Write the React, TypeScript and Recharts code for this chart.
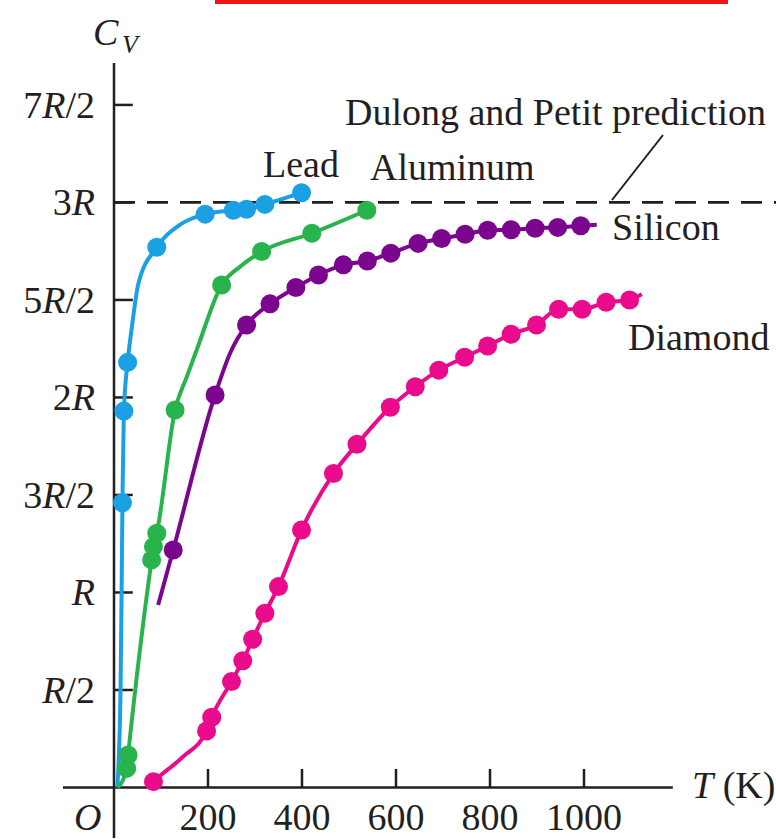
import { ComposedChart, Line, Scatter, XAxis, YAxis, ReferenceLine } from 'recharts';

const W = 776;
const H = 839;
const FONT = '"Liberation Serif", "Times New Roman", serif';
const INK = '#231f20';

// C_V in units of R, temperature in K
const X_TICKS = [200, 400, 600, 800, 1000];
const Y_TICKS = [0.5, 1, 1.5, 2, 2.5, 3, 3.5];
// [before, italic R, after]
const Y_TICK_LABELS: Record<number, string[]> = {
  0.5: ['', 'R', '/2'],
  1: ['', 'R', ''],
  1.5: ['3', 'R', '/2'],
  2: ['2', 'R', ''],
  2.5: ['5', 'R', '/2'],
  3: ['3', 'R', ''],
  3.5: ['7', 'R', '/2'],
};
const DULONG_PETIT = 3;

// Lead
const leadDotT = [18, 21, 29, 91, 194, 254, 282, 321, 399];
const leadDotC = [1.46, 1.93, 2.18, 2.77, 2.94, 2.96, 2.965, 2.99, 3.05];
const leadLineT = [7, 14, 18, 21, 29, 38, 52, 91, 140, 194, 254, 282, 321, 399];
const leadLineC = [0, 0.5, 1.46, 1.93, 2.18, 2.36, 2.585, 2.77, 2.885, 2.94, 2.96, 2.965, 2.99, 3.05];

// Aluminum
const alDotT = [27, 30, 80, 84, 91, 130, 229, 314, 421, 538];
const alDotC = [0.098, 0.167, 1.167, 1.235, 1.304, 1.936, 2.577, 2.748, 2.842, 2.96];
const alLineT = [8, 27, 30, 80, 84, 91, 130, 155, 176, 229, 268, 314, 421, 538];
const alLineC = [0, 0.098, 0.167, 1.167, 1.235, 1.304, 1.936, 2.107, 2.244, 2.577, 2.67, 2.748, 2.842, 2.96];

// Silicon
const siDotT = [126, 215, 282, 332, 387, 435, 488, 539, 589, 647, 697, 747, 795, 845, 896, 944, 993];
const siDotC = [1.218, 2.013, 2.372, 2.48, 2.564, 2.628, 2.68, 2.7, 2.74, 2.79, 2.815, 2.837, 2.857, 2.86, 2.868, 2.872, 2.88];
const siLineT = [94, 126, 215, 247, 282, 332, 387, 435, 488, 539, 589, 647, 697, 747, 795, 845, 896, 944, 993, 1027];
const siLineC = [0.936, 1.218, 2.013, 2.227, 2.372, 2.48, 2.564, 2.628, 2.68, 2.7, 2.74, 2.79, 2.815, 2.837, 2.857, 2.86, 2.868, 2.872, 2.88, 2.885];

// Diamond
const diaDotT = [84, 197, 208, 250, 274, 295, 321, 350, 399, 467, 517, 588, 641, 691, 746, 795, 845, 899, 946, 996, 1047, 1097];
const diaDotC = [0.03, 0.29, 0.36, 0.543, 0.65, 0.76, 0.893, 1.03, 1.32, 1.61, 1.76, 1.95, 2.055, 2.14, 2.206, 2.264, 2.324, 2.372, 2.452, 2.452, 2.488, 2.5];
const diaLineT = [72, 84, 147, 197, 208, 250, 274, 295, 321, 350, 399, 467, 517, 588, 641, 691, 746, 795, 845, 899, 946, 996, 1047, 1097, 1123];
const diaLineC = [0, 0.03, 0.158, 0.29, 0.36, 0.543, 0.65, 0.76, 0.893, 1.03, 1.32, 1.61, 1.76, 1.95, 2.055, 2.14, 2.206, 2.264, 2.324, 2.372, 2.452, 2.452, 2.488, 2.5, 2.53];

const zip = (t: number[], c: number[]) => t.map((v, i) => ({ t: v, c: c[i] }));

const SERIES = [
  { name: 'Lead', color: '#1ba0e4', dots: zip(leadDotT, leadDotC), line: zip(leadLineT, leadLineC) },
  { name: 'Aluminum', color: '#29b34c', dots: zip(alDotT, alDotC), line: zip(alLineT, alLineC) },
  { name: 'Silicon', color: '#7c058f', dots: zip(siDotT, siDotC), line: zip(siLineT, siLineC) },
  { name: 'Diamond', color: '#ea0a8c', dots: zip(diaDotT, diaDotC), line: zip(diaLineT, diaLineC) },
];

const X_DOMAIN: [number, number] = [-108.5, 1408.5];
const Y_DOMAIN: [number, number] = [-0.259, 3.715];
const AXIS_X_END = 1189;

const textStyle = { fontFamily: FONT, fontSize: 38, fill: INK };

const XTick = (p: any) => (
  <text x={p.x} y={830} textAnchor="middle" {...textStyle}>{p.payload.value}</text>
);

const YTick = (p: any) => {
  const parts = Y_TICK_LABELS[p.payload.value] || ['', '', ''];
  return (
    <text x={95} y={p.y + 13} textAnchor="end" {...textStyle}>
      {parts[0]}
      <tspan fontStyle="italic">{parts[1]}</tspan>
      {parts[2]}
    </text>
  );
};

const Dot = (color: string) => (p: any) => <circle cx={p.cx} cy={p.cy} r={9.5} fill={color} />;

export default function App() {
  return (
    <div style={{ position: 'absolute', left: 0, top: 0, width: W, height: H, background: '#fff' }}>
      <ComposedChart width={W} height={H} margin={{ top: 63, right: 0, bottom: 0, left: 0 }}>
        <XAxis
          type="number"
          dataKey="t"
          domain={X_DOMAIN}
          ticks={X_TICKS}
          axisLine={false}
          tickLine={false}
          height={1}
          tick={XTick}
          interval={0}
          allowDataOverflow
        />
        <YAxis
          type="number"
          dataKey="c"
          domain={Y_DOMAIN}
          ticks={Y_TICKS}
          axisLine={false}
          tickLine={false}
          width={63}
          tick={YTick}
          interval={0}
          allowDataOverflow
        />
        {/* axes through the origin */}
        <ReferenceLine segment={[{ x: X_DOMAIN[0], y: 0 }, { x: AXIS_X_END, y: 0 }]} stroke={INK} strokeWidth={2.5} ifOverflow="visible" />
        <ReferenceLine segment={[{ x: 0, y: Y_DOMAIN[0] }, { x: 0, y: Y_DOMAIN[1] }]} stroke={INK} strokeWidth={2.5} ifOverflow="visible" />
        {X_TICKS.map(t => (
          <ReferenceLine key={'xt' + t} segment={[{ x: t, y: 0 }, { x: t, y: 0.095 }]} stroke={INK} strokeWidth={2.5} ifOverflow="visible" />
        ))}
        {Y_TICKS.map(v => (
          <ReferenceLine key={'yt' + v} segment={[{ x: 0, y: v }, { x: 40, y: v }]} stroke={INK} strokeWidth={2.5} ifOverflow="visible" />
        ))}
        <ReferenceLine
          segment={[{ x: 0, y: DULONG_PETIT }, { x: X_DOMAIN[1], y: DULONG_PETIT }]}
          stroke={INK}
          strokeWidth={2.8}
          strokeDasharray="21 12"
          ifOverflow="visible"
        />
        {SERIES.map(s => (
          <Line
            key={s.name + '-line'}
            data={s.line}
            dataKey="c"
            type="monotone"
            stroke={s.color}
            strokeWidth={4}
            dot={false}
            activeDot={false}
            isAnimationActive={false}
          />
        ))}
        {SERIES.map(s => (
          <Scatter
            key={s.name + '-dots'}
            data={s.dots}
            dataKey="c"
            fill={s.color}
            shape={Dot(s.color)}
            isAnimationActive={false}
          />
        ))}
      </ComposedChart>
      <svg width={W} height={H} style={{ position: 'absolute', left: 0, top: 0, pointerEvents: 'none' }}>
        <rect x={215} y={0} width={513} height={4} fill="#f01414" />
        <text x={93} y={45} {...textStyle} fontStyle="italic">C</text>
        <text x={122} y={53} {...textStyle} fontSize={26} fontStyle="italic">V</text>
        <text x={74} y={830} {...textStyle} fontStyle="italic">O</text>
        <text x={692} y={798} {...textStyle}>
          <tspan fontStyle="italic">T</tspan> (K)
        </text>
        <text x={345} y={125} {...textStyle}>Dulong and Petit prediction</text>
        <line x1={612} y1={200} x2={663} y2={135} stroke={INK} strokeWidth={2} />
        <text x={263} y={177} {...textStyle}>Lead</text>
        <text x={370} y={180} {...textStyle}>Aluminum</text>
        <text x={612} y={240} {...textStyle}>Silicon</text>
        <text x={628} y={350} {...textStyle}>Diamond</text>
      </svg>
    </div>
  );
}
